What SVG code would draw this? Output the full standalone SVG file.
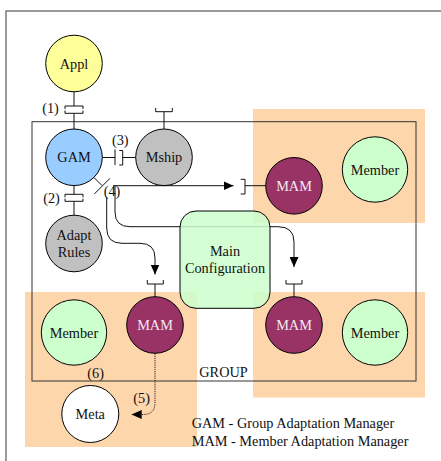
<svg xmlns="http://www.w3.org/2000/svg" width="441" height="461" viewBox="0 0 441 461">
<style>
  text { font-family: "Liberation Serif", "Times New Roman", serif; font-size: 14.3px; fill: #111; }
  .c { text-anchor: middle; }
  .node { stroke: #000; stroke-width: 1; }
  .w { fill: #f6e8f2; }
  .ln { fill: none; stroke: #111; stroke-width: 1; }
  .dot { fill: none; stroke: #222; stroke-width: 1; stroke-dasharray: 1.2 1; }
  .region { fill: #fdd6ac; stroke: none; }
</style>
<defs>
  <marker id="arr" markerUnits="userSpaceOnUse" markerWidth="10" markerHeight="9" refX="10" refY="4.5" orient="auto">
    <path d="M0,0 L10,4.5 L0,9 z" fill="#000"/>
  </marker>
</defs>
<rect x="0" y="0" width="441" height="461" fill="#fff"/>
<rect x="6" y="11" width="460" height="470" fill="none" stroke="#666" stroke-width="1.3"/>

<g id="regions">
  <rect class="region" x="253" y="109" width="172" height="114"/>
  <rect class="region" x="25" y="292" width="172" height="155"/>
  <rect class="region" x="253" y="292" width="172" height="105.5"/>
</g>

<g id="group-box">
  <rect x="32" y="121.7" width="384" height="259.3" fill="none" stroke="#333" stroke-width="1"/>
  <text x="199.3" y="377">GROUP</text>
</g>

<g id="connectors">
  <!-- (1) Appl - GAM -->
  <path class="ln" d="M74 92 V106 M65 109 V106 H83 V109 M65 110.5 V113.3 H83 V110.5 M74 113.3 V129.5"/>
  <!-- (2) GAM - Adapt Rules -->
  <path class="ln" d="M74 185.5 V194.3 M65 197.3 V194.3 H83 V197.3 M65 198.7 V201.3 H83 V198.7 M74 201.3 V215.5"/>
  <!-- (3) GAM - Mship -->
  <path class="ln" d="M102.3 157.5 H115 M115 149.5 V165 M119.3 150.5 H122.7 V165 H119.3 M122.7 157.5 H135.7"/>
  <!-- Mship socket -->
  <path class="ln" d="M164 129 V111.7 M155.7 108 V111.7 H172.3 V108"/>
  <!-- (4) GAM out -->
  <path class="ln" d="M93.8 177.3 L102 185.5 M94.3 194 L110 178.3"/>
  <path class="ln" d="M113 185.7 H233.5" marker-end="url(#arr)"/>
  <path class="ln" d="M240.7 179.3 H245 V194 H240.7 M245 185.7 H265.7"/>
  <path class="ln" d="M115 185.7 V212 Q115 226.7 130 226.7 H278 Q294 226.7 294 242 V267" marker-end="url(#arr)"/>
  <path class="ln" d="M106.7 197 V228 Q106.7 243.3 122 243.3 H140 Q155 243.3 155 258 V274.5" marker-end="url(#arr)"/>
  <!-- MAM sockets -->
  <path class="ln" d="M147.3 280 V284 H163.3 V280 M155 284 V296.7"/>
  <path class="ln" d="M286 280 V284 H302 V280 M294 284 V296.7"/>
  <!-- (5) MAM - Meta -->
  <path class="dot" d="M155 353.5 V403 Q155 414.5 143 414.5 L131.7 414.5" marker-end="url(#arr)"/>
</g>

<g id="labels">
  <text class="c" x="50.5" y="112.7">(1)</text>
  <text class="c" x="51.5" y="203.3">(2)</text>
  <text class="c" x="120.3" y="145">(3)</text>
  <text class="c" x="112" y="196">(4)</text>
  <text class="c" x="141.7" y="402.7">(5)</text>
  <text class="c" x="95.7" y="377.5">(6)</text>
</g>

<g id="appl"><circle class="node" cx="74" cy="63.5" r="28.3" fill="#ffff99"/><text class="c" x="74" y="68.5">Appl</text></g>
<g id="gam"><circle class="node" cx="74" cy="157.3" r="28.3" fill="#99ccff"/><text class="c" x="74" y="162.3">GAM</text></g>
<g id="mship"><circle class="node" cx="164" cy="157.3" r="28.3" fill="#c0c0c0"/><text class="c" x="164" y="162.3">Mship</text></g>
<g id="adapt-rules"><circle class="node" cx="74" cy="243.5" r="28.3" fill="#c0c0c0"/><text class="c" x="74" y="240">Adapt</text><text class="c" x="74" y="256.5">Rules</text></g>
<g id="main-config"><rect class="node" x="180" y="211" width="90" height="97.3" rx="16" ry="16" fill="#ccffcc" fill-opacity="0.85"/><text class="c" x="225" y="255.5">Main</text><text class="c" x="225" y="272.5">Configuration</text></g>
<g id="mam-top"><circle class="node" cx="294" cy="185.8" r="28.3" fill="#993366"/><text class="c w" x="294" y="190.8">MAM</text></g>
<g id="member-top"><circle class="node" cx="375" cy="169.5" r="32.7" fill="#ccffcc"/><text class="c" x="375" y="174.5">Member</text></g>
<g id="mam-left"><circle class="node" cx="155" cy="325" r="28.3" fill="#993366"/><text class="c w" x="155" y="330">MAM</text></g>
<g id="member-left"><circle class="node" cx="74" cy="332.5" r="32.7" fill="#ccffcc"/><text class="c" x="74" y="337.5">Member</text></g>
<g id="mam-right"><circle class="node" cx="294" cy="325" r="28.3" fill="#993366"/><text class="c w" x="294" y="330">MAM</text></g>
<g id="member-right"><circle class="node" cx="375" cy="332.5" r="32.7" fill="#ccffcc"/><text class="c" x="375" y="337.5">Member</text></g>
<g id="meta"><circle class="node" cx="90.3" cy="414" r="28.5" fill="#ffffff"/><text class="c" x="90.3" y="419">Meta</text></g>

<g id="legend">
  <text x="191.7" y="428">GAM - Group Adaptation Manager</text>
  <text x="191.7" y="445.7">MAM - Member Adaptation Manager</text>
</g>
</svg>
